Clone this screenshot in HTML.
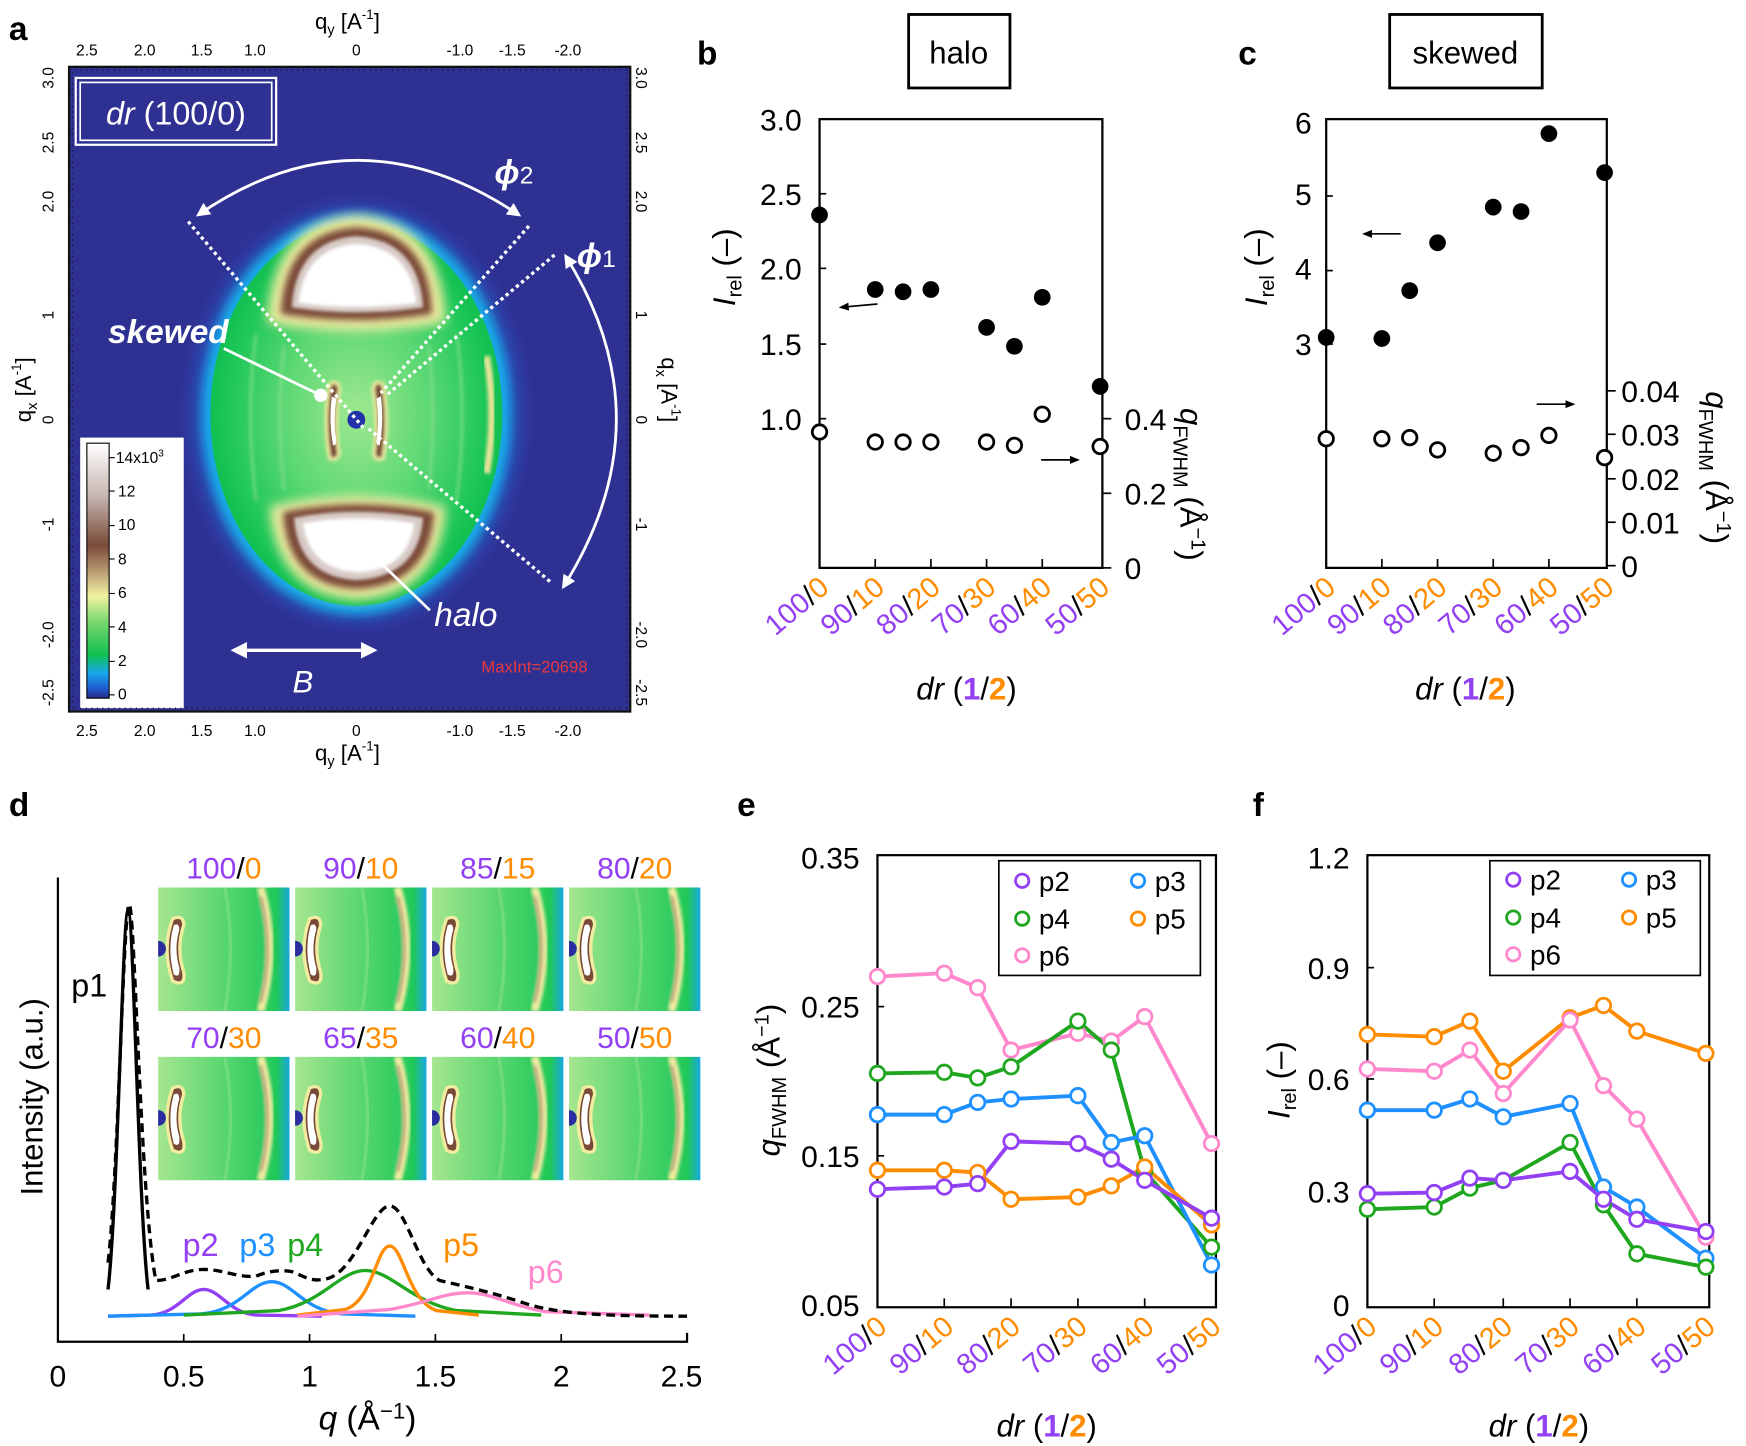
<!DOCTYPE html>
<html><head><meta charset="utf-8"><style>
html,body{margin:0;padding:0;background:#fff}
svg{display:block}
text{font-family:"Liberation Sans",sans-serif}
</style></head><body>
<svg width="1746" height="1446" viewBox="0 0 1568 1298.6" xmlns="http://www.w3.org/2000/svg">
<defs>
<radialGradient id="glow" cx="50%" cy="50%" r="50%">
<stop offset="0.75" stop-color="#2a5ad0"/><stop offset="1" stop-color="#2e3192"/></radialGradient>
<radialGradient id="grn" cx="50%" cy="50%" r="50%">
<stop offset="0" stop-color="#a0e890"/><stop offset="0.5" stop-color="#5cd874"/><stop offset="0.85" stop-color="#22c85a"/><stop offset="1" stop-color="#10c050"/></radialGradient>
<linearGradient id="cbar" x1="0" y1="1" x2="0" y2="0">
<stop offset="0" stop-color="#262a85"/><stop offset="0.04" stop-color="#1f5fd0"/><stop offset="0.1" stop-color="#16a8ea"/>
<stop offset="0.17" stop-color="#10c050"/><stop offset="0.3" stop-color="#7ad870"/><stop offset="0.4" stop-color="#f2f2a0"/>
<stop offset="0.5" stop-color="#b89870"/><stop offset="0.6" stop-color="#7a4a38"/><stop offset="0.8" stop-color="#c8b8b4"/><stop offset="1" stop-color="#ffffff"/></linearGradient>
<linearGradient id="thumb" x1="0" y1="0" x2="1" y2="0">
<stop offset="0" stop-color="#a6e690"/><stop offset="0.5" stop-color="#58d670"/><stop offset="0.9" stop-color="#20c858"/><stop offset="1" stop-color="#18a8e0"/></linearGradient>
<filter id="bl" x="-50%" y="-50%" width="200%" height="200%"><feGaussianBlur stdDeviation="5"/></filter>
<filter id="bl3" x="-50%" y="-50%" width="200%" height="200%"><feGaussianBlur stdDeviation="3"/></filter>
<filter id="bl2" x="-50%" y="-50%" width="200%" height="200%"><feGaussianBlur stdDeviation="1.5"/></filter>
<clipPath id="tc"><rect x="0" y="0" width="118" height="111"/></clipPath>
<marker id="ah" viewBox="0 0 10 10" refX="8" refY="5" markerWidth="5" markerHeight="5" orient="auto-start-reverse"><path d="M0,0 L10,5 L0,10 z" fill="#fff"/></marker>
<marker id="ahk" viewBox="0 0 10 10" refX="8" refY="5" markerWidth="6" markerHeight="6" orient="auto"><path d="M0,1 L10,5 L0,9 z" fill="#000"/></marker>
<g id="th" clip-path="url(#tc)">
<rect x="0" y="0" width="118" height="111" fill="url(#thumb)"/>
<path d="M92,0 Q108,55 92,111" stroke="#f0eca0" stroke-width="7" fill="none" filter="url(#bl2)"/>
<path d="M92,8 Q104,55 92,103" stroke="#b89a78" stroke-width="2.5" fill="none" filter="url(#bl2)"/>
<path d="M60,0 Q70,55 60,111" stroke="#8ee090" stroke-width="3" fill="none" opacity="0.5"/>
<path d="M13,28 Q3,55 13,84 Q25,90 23,76 Q16,55 23,34 Q23,24 13,28z" fill="#7a4a38" stroke="#f0eca0" stroke-width="3"/>
<path d="M14,34 Q8,55 14,78 Q20,82 19,72 Q14,55 19,38 Q19,31 14,34z" fill="#fff"/>
<circle cx="0" cy="55" r="7" fill="#2a2ca0"/>
</g>
</defs>

<!-- ============ PANEL A ============ -->
<text x="8" y="36" font-size="30" font-weight="bold">a</text>
<rect x="62" y="60" width="504" height="579" fill="#2e3192"/>
<g>
<ellipse cx="320" cy="372" rx="160" ry="200" fill="url(#glow)"/>
<ellipse cx="320" cy="372" rx="139" ry="180" fill="#19aee8" filter="url(#bl)"/>
<ellipse cx="320" cy="372" rx="131" ry="172" fill="url(#grn)"/>
<g fill="none" stroke="#8ee090" stroke-width="3" opacity="0.6" filter="url(#bl2)">
<path d="M385,310 Q392,372 385,440"/><path d="M255,310 Q248,372 255,440"/>
<path d="M410,300 Q420,372 410,450"/><path d="M230,300 Q220,372 230,450"/>
</g>
<path d="M437,320 Q446,372 437,425" stroke="#e8e49a" stroke-width="6" fill="none" filter="url(#bl2)"/>
<!-- top blob -->
<path d="M240,290 Q244,198 320,193 Q398,198 400,290 Q320,304 240,290z" fill="#eeeaa0" filter="url(#bl)"/>
<path d="M252,282 Q256,208 320,204 Q386,208 388,282 Q320,293 252,282z" fill="#7a4a38" filter="url(#bl3)"/>
<path d="M262,276 Q266,216 320,212 Q376,216 380,276 Q320,285 262,276z" fill="#d8ccc8" filter="url(#bl2)"/>
<path d="M268,272 Q274,222 320,219 Q368,222 374,272 Q320,279 268,272z" fill="#fff" filter="url(#bl2)"/>
<!-- bottom blob -->
<path d="M242,455 Q320,436 400,455 Q396,535 320,539 Q248,535 242,455z" fill="#eeeaa0" filter="url(#bl)"/>
<path d="M254,460 Q320,446 390,460 Q386,526 320,529 Q258,526 254,460z" fill="#7a4a38" filter="url(#bl3)"/>
<path d="M264,465 Q320,454 380,465 Q376,518 320,521 Q268,518 264,465z" fill="#d8ccc8" filter="url(#bl2)"/>
<path d="M272,470 Q320,461 372,470 Q366,512 322,514 Q278,512 272,470z" fill="#fff" filter="url(#bl2)"/>
<!-- skewed streaks -->
<path d="M296,345 Q290,378 296,412 Q306,414 304,404 Q300,378 305,350 Q304,340 296,345z" fill="#7a4a38" stroke="#f0eca0" stroke-width="3" filter="url(#bl2)"/>
<path d="M298,356 Q295,378 299,400 Q302,400 302,396 Q299,378 302,358z" fill="#fff"/>
<path d="M344,345 Q350,378 344,412 Q334,414 336,404 Q340,378 335,350 Q336,340 344,345z" fill="#7a4a38" stroke="#f0eca0" stroke-width="3" filter="url(#bl2)"/>
<path d="M342,356 Q345,378 341,400 Q338,400 338,396 Q341,378 338,358z" fill="#fff"/>
<circle cx="320" cy="377" r="8" fill="#2233aa"/>
</g>
<!-- annotations -->
<rect x="68" y="70" width="180" height="60" fill="none" stroke="#fff" stroke-width="2"/>
<rect x="72" y="74" width="172" height="52" fill="none" stroke="#fff" stroke-width="1.5"/>
<text x="158" y="112" font-size="29" fill="#fff" text-anchor="middle"><tspan font-style="italic">dr</tspan> (100/0)</text>
<g stroke="#fff" stroke-width="3" stroke-dasharray="3,3" fill="none">
<path d="M169,199 L327,385"/><path d="M331,385 L496,524"/>
<path d="M475,203 L342,353"/><path d="M498,229 L347,355"/>
</g>
<path d="M178,193 Q320,95 466,193" stroke="#fff" stroke-width="2.5" fill="none" marker-start="url(#ah)" marker-end="url(#ah)"/>
<path d="M508,230 Q600,377 506,527" stroke="#fff" stroke-width="2.5" fill="none" marker-start="url(#ah)" marker-end="url(#ah)"/>
<text x="444" y="165" font-size="30" fill="#fff" font-style="italic" font-weight="bold">ϕ<tspan font-size="22" font-style="normal" font-weight="normal">2</tspan></text>
<text x="518" y="240" font-size="30" fill="#fff" font-style="italic" font-weight="bold">ϕ<tspan font-size="22" font-style="normal" font-weight="normal">1</tspan></text>
<line x1="201" y1="313" x2="288" y2="355" stroke="#fff" stroke-width="2.5"/>
<circle cx="288" cy="355" r="6" fill="#fff"/>
<text x="97" y="308" font-size="30" fill="#fff" font-style="italic" font-weight="bold">skewed</text>
<line x1="334" y1="498" x2="386" y2="548" stroke="#fff" stroke-width="2.5"/>
<circle cx="334" cy="498" r="6" fill="#fff"/>
<text x="390" y="562" font-size="30" fill="#fff" font-style="italic">halo</text>
<line x1="210" y1="584" x2="336" y2="584" stroke="#fff" stroke-width="3" marker-start="url(#ah)" marker-end="url(#ah)"/>
<text x="272" y="622" font-size="28" fill="#fff" font-style="italic" text-anchor="middle">B</text>
<text x="480" y="604" font-size="15" fill="#e8383d" text-anchor="middle">MaxInt=20698</text>
<!-- colorbar -->
<rect x="72" y="393" width="93" height="243" fill="#fff"/>
<rect x="78" y="398" width="20" height="229" fill="url(#cbar)" stroke="#000" stroke-width="1"/>
<g font-size="14">
<text x="104" y="416">14x10<tspan font-size="9" dy="-6">3</tspan></text>
<text x="106" y="446">12</text><text x="106" y="476">10</text><text x="106" y="507">8</text><text x="106" y="537">6</text><text x="106" y="568">4</text><text x="106" y="598">2</text><text x="106" y="628">0</text>
</g>
<g stroke="#000" stroke-width="1"><line x1="98" y1="411" x2="103" y2="411"/><line x1="98" y1="441" x2="103" y2="441"/><line x1="98" y1="472" x2="103" y2="472"/><line x1="98" y1="502" x2="103" y2="502"/><line x1="98" y1="533" x2="103" y2="533"/><line x1="98" y1="563" x2="103" y2="563"/><line x1="98" y1="594" x2="103" y2="594"/><line x1="98" y1="624" x2="103" y2="624"/></g>
<rect x="62" y="60" width="504" height="579" fill="none" stroke="#111" stroke-width="2"/>
<g stroke="#111" stroke-width="1" stroke-dasharray="1,4">
<line x1="62" y1="63" x2="566" y2="63"/><line x1="62" y1="636" x2="566" y2="636"/>
<line x1="65" y1="60" x2="65" y2="639"/><line x1="563" y1="60" x2="563" y2="639"/>
</g>
<g font-size="14" text-anchor="middle">
<text x="78" y="50">2.5</text><text x="130" y="50">2.0</text><text x="181" y="50">1.5</text><text x="229" y="50">1.0</text><text x="320" y="50">0</text><text x="413" y="50">-1.0</text><text x="460" y="50">-1.5</text><text x="510" y="50">-2.0</text>
<text x="78" y="661">2.5</text><text x="130" y="661">2.0</text><text x="181" y="661">1.5</text><text x="229" y="661">1.0</text><text x="320" y="661">0</text><text x="413" y="661">-1.0</text><text x="460" y="661">-1.5</text><text x="510" y="661">-2.0</text>
</g>
<text x="312" y="26" font-size="20" text-anchor="middle">q<tspan font-size="13" dy="5">y</tspan><tspan dy="-5"> [A</tspan><tspan font-size="12" dy="-9">-1</tspan><tspan dy="9">]</tspan></text>
<text x="312" y="683" font-size="20" text-anchor="middle">q<tspan font-size="13" dy="5">y</tspan><tspan dy="-5"> [A</tspan><tspan font-size="12" dy="-9">-1</tspan><tspan dy="9">]</tspan></text>
<g font-size="14" text-anchor="middle">
<text transform="translate(48,70) rotate(-90)">3.0</text><text transform="translate(48,128) rotate(-90)">2.5</text><text transform="translate(48,181) rotate(-90)">2.0</text><text transform="translate(48,283) rotate(-90)">1</text><text transform="translate(48,377) rotate(-90)">0</text><text transform="translate(48,471) rotate(-90)">-1</text><text transform="translate(48,570) rotate(-90)">-2.0</text><text transform="translate(48,622) rotate(-90)">-2.5</text>
<text transform="translate(571,70) rotate(90)">3.0</text><text transform="translate(571,128) rotate(90)">2.5</text><text transform="translate(571,181) rotate(90)">2.0</text><text transform="translate(571,283) rotate(90)">1</text><text transform="translate(571,377) rotate(90)">0</text><text transform="translate(571,471) rotate(90)">-1</text><text transform="translate(571,570) rotate(90)">-2.0</text><text transform="translate(571,622) rotate(90)">-2.5</text>
</g>
<text transform="translate(28,350) rotate(-90)" font-size="20" text-anchor="middle">q<tspan font-size="13" dy="5">x</tspan><tspan dy="-5"> [A</tspan><tspan font-size="12" dy="-9">-1</tspan><tspan dy="9">]</tspan></text>
<text transform="translate(594,350) rotate(90)" font-size="20" text-anchor="middle">q<tspan font-size="13" dy="5">x</tspan><tspan dy="-5"> [A</tspan><tspan font-size="12" dy="-9">-1</tspan><tspan dy="9">]</tspan></text>

<!-- ============ PANEL B ============ -->
<text x="626" y="58" font-size="30" font-weight="bold">b</text>
<rect x="816" y="13" width="91" height="66" fill="none" stroke="#000" stroke-width="2.5"/>
<text x="861" y="57" font-size="28" text-anchor="middle">halo</text>
<rect x="736" y="107" width="254" height="403" fill="none" stroke="#000" stroke-width="2"/>
<g font-size="27" text-anchor="end"><text x="720" y="117">3.0</text><text x="720" y="184">2.5</text><text x="720" y="251">2.0</text><text x="720" y="319">1.5</text><text x="720" y="386">1.0</text></g>
<g stroke="#000" stroke-width="1.5"><line x1="736" y1="174" x2="742" y2="174"/><line x1="736" y1="241" x2="742" y2="241"/><line x1="736" y1="309" x2="742" y2="309"/><line x1="736" y1="376" x2="742" y2="376"/>
<line x1="990" y1="376" x2="998" y2="376"/><line x1="990" y1="443" x2="998" y2="443"/><line x1="990" y1="510" x2="998" y2="510"/>
<line x1="786" y1="510" x2="786" y2="502"/><line x1="836" y1="510" x2="836" y2="502"/><line x1="886" y1="510" x2="886" y2="502"/><line x1="936" y1="510" x2="936" y2="502"/></g>
<g font-size="27"><text x="1010" y="386">0.4</text><text x="1010" y="453">0.2</text><text x="1010" y="520">0</text></g>
<text transform="translate(660,240) rotate(-90)" font-size="28" text-anchor="middle"><tspan font-style="italic">I</tspan><tspan font-size="18" dy="6">rel</tspan><tspan dy="-6"> (–)</tspan></text>
<text transform="translate(1060,435) rotate(90)" font-size="28" text-anchor="middle"><tspan font-style="italic">q</tspan><tspan font-size="18" dy="6">FWHM</tspan><tspan dy="-6"> (Å</tspan><tspan font-size="18" dy="-10">−1</tspan><tspan dy="10">)</tspan></text>
<g fill="#000"><circle cx="736" cy="193" r="7.5"/><circle cx="786" cy="260" r="7.5"/><circle cx="811" cy="262" r="7.5"/><circle cx="836" cy="260" r="7.5"/><circle cx="886" cy="294" r="7.5"/><circle cx="911" cy="311" r="7.5"/><circle cx="936" cy="267" r="7.5"/><circle cx="988" cy="347" r="7.5"/></g>
<g fill="#fff" stroke="#000" stroke-width="2.5"><circle cx="736" cy="388" r="6.5"/><circle cx="786" cy="397" r="6.5"/><circle cx="811" cy="397" r="6.5"/><circle cx="836" cy="397" r="6.5"/><circle cx="886" cy="397" r="6.5"/><circle cx="911" cy="400" r="6.5"/><circle cx="936" cy="372" r="6.5"/><circle cx="988" cy="401" r="6.5"/></g>
<line x1="788" y1="273" x2="755" y2="276" stroke="#000" stroke-width="1.5" marker-end="url(#ahk)"/>
<line x1="935" y1="413" x2="968" y2="413" stroke="#000" stroke-width="1.5" marker-end="url(#ahk)"/>
<g font-size="26" text-anchor="end">
<text transform="translate(746,530) rotate(-40)"><tspan fill="#9340f5">100</tspan>/<tspan fill="#ff8c00">0</tspan></text>
<text transform="translate(796,530) rotate(-40)"><tspan fill="#9340f5">90</tspan>/<tspan fill="#ff8c00">10</tspan></text>
<text transform="translate(846,530) rotate(-40)"><tspan fill="#9340f5">80</tspan>/<tspan fill="#ff8c00">20</tspan></text>
<text transform="translate(896,530) rotate(-40)"><tspan fill="#9340f5">70</tspan>/<tspan fill="#ff8c00">30</tspan></text>
<text transform="translate(946,530) rotate(-40)"><tspan fill="#9340f5">60</tspan>/<tspan fill="#ff8c00">40</tspan></text>
<text transform="translate(998,530) rotate(-40)"><tspan fill="#9340f5">50</tspan>/<tspan fill="#ff8c00">50</tspan></text>
</g>
<text x="868" y="628" font-size="28" text-anchor="middle"><tspan font-style="italic">dr</tspan> (<tspan fill="#9340f5" font-weight="bold">1</tspan>/<tspan fill="#ff8c00" font-weight="bold">2</tspan>)</text>

<!-- ============ PANEL C ============ -->
<text x="1112" y="58" font-size="30" font-weight="bold">c</text>
<rect x="1248" y="13" width="137" height="66" fill="none" stroke="#000" stroke-width="2.5"/>
<text x="1316" y="57" font-size="28" text-anchor="middle">skewed</text>
<rect x="1191" y="107" width="252" height="403" fill="none" stroke="#000" stroke-width="2"/>
<g font-size="27" text-anchor="end"><text x="1178" y="120">6</text><text x="1178" y="184">5</text><text x="1178" y="251">4</text><text x="1178" y="319">3</text></g>
<g stroke="#000" stroke-width="1.5"><line x1="1191" y1="176" x2="1197" y2="176"/><line x1="1191" y1="243" x2="1197" y2="243"/><line x1="1191" y1="309" x2="1197" y2="309"/>
<line x1="1443" y1="351" x2="1451" y2="351"/><line x1="1443" y1="390" x2="1451" y2="390"/><line x1="1443" y1="430" x2="1451" y2="430"/><line x1="1443" y1="469" x2="1451" y2="469"/><line x1="1443" y1="508" x2="1451" y2="508"/>
<line x1="1241" y1="510" x2="1241" y2="502"/><line x1="1291" y1="510" x2="1291" y2="502"/><line x1="1341" y1="510" x2="1341" y2="502"/><line x1="1391" y1="510" x2="1391" y2="502"/></g>
<g font-size="27"><text x="1456" y="361">0.04</text><text x="1456" y="400">0.03</text><text x="1456" y="440">0.02</text><text x="1456" y="479">0.01</text><text x="1456" y="518">0</text></g>
<text transform="translate(1138,240) rotate(-90)" font-size="28" text-anchor="middle"><tspan font-style="italic">I</tspan><tspan font-size="18" dy="6">rel</tspan><tspan dy="-6"> (–)</tspan></text>
<text transform="translate(1532,420) rotate(90)" font-size="28" text-anchor="middle"><tspan font-style="italic">q</tspan><tspan font-size="18" dy="6">FWHM</tspan><tspan dy="-6"> (Å</tspan><tspan font-size="18" dy="-10">−1</tspan><tspan dy="10">)</tspan></text>
<g fill="#000"><circle cx="1191" cy="303" r="7.5"/><circle cx="1241" cy="304" r="7.5"/><circle cx="1266" cy="261" r="7.5"/><circle cx="1291" cy="218" r="7.5"/><circle cx="1341" cy="186" r="7.5"/><circle cx="1366" cy="190" r="7.5"/><circle cx="1391" cy="120" r="7.5"/><circle cx="1441" cy="155" r="7.5"/></g>
<g fill="#fff" stroke="#000" stroke-width="2.5"><circle cx="1191" cy="394" r="6.5"/><circle cx="1241" cy="394" r="6.5"/><circle cx="1266" cy="393" r="6.5"/><circle cx="1291" cy="404" r="6.5"/><circle cx="1341" cy="407" r="6.5"/><circle cx="1366" cy="402" r="6.5"/><circle cx="1391" cy="391" r="6.5"/><circle cx="1441" cy="411" r="6.5"/></g>
<line x1="1258" y1="210" x2="1225" y2="210" stroke="#000" stroke-width="1.5" marker-end="url(#ahk)"/>
<line x1="1380" y1="363" x2="1413" y2="363" stroke="#000" stroke-width="1.5" marker-end="url(#ahk)"/>
<g font-size="26" text-anchor="end">
<text transform="translate(1201,530) rotate(-40)"><tspan fill="#9340f5">100</tspan>/<tspan fill="#ff8c00">0</tspan></text>
<text transform="translate(1251,530) rotate(-40)"><tspan fill="#9340f5">90</tspan>/<tspan fill="#ff8c00">10</tspan></text>
<text transform="translate(1301,530) rotate(-40)"><tspan fill="#9340f5">80</tspan>/<tspan fill="#ff8c00">20</tspan></text>
<text transform="translate(1351,530) rotate(-40)"><tspan fill="#9340f5">70</tspan>/<tspan fill="#ff8c00">30</tspan></text>
<text transform="translate(1401,530) rotate(-40)"><tspan fill="#9340f5">60</tspan>/<tspan fill="#ff8c00">40</tspan></text>
<text transform="translate(1451,530) rotate(-40)"><tspan fill="#9340f5">50</tspan>/<tspan fill="#ff8c00">50</tspan></text>
</g>
<text x="1316" y="628" font-size="28" text-anchor="middle"><tspan font-style="italic">dr</tspan> (<tspan fill="#9340f5" font-weight="bold">1</tspan>/<tspan fill="#ff8c00" font-weight="bold">2</tspan>)</text>

<!-- ============ PANEL D ============ -->
<text x="8" y="733" font-size="30" font-weight="bold">d</text>
<path d="M52,788 L52,1205 L617,1205 L617,1197" fill="none" stroke="#000" stroke-width="2"/>
<g stroke="#000" stroke-width="1.5"><line x1="165" y1="1205" x2="165" y2="1198"/><line x1="278" y1="1205" x2="278" y2="1198"/><line x1="391" y1="1205" x2="391" y2="1198"/><line x1="504" y1="1205" x2="504" y2="1198"/></g>
<g font-size="27" text-anchor="middle"><text x="52" y="1245">0</text><text x="165" y="1245">0.5</text><text x="278" y="1245">1</text><text x="391" y="1245">1.5</text><text x="504" y="1245">2</text><text x="612" y="1245">2.5</text></g>
<text x="330" y="1284" font-size="30" text-anchor="middle"><tspan font-style="italic">q</tspan> (Å<tspan font-size="20" dy="-10">−1</tspan><tspan dy="10">)</tspan></text>
<text transform="translate(38,985) rotate(-90)" font-size="28" text-anchor="middle">Intensity (a.u.)</text>
<!-- thumbnails -->
<use href="#th" x="142" y="797"/><use href="#th" x="265" y="797"/><use href="#th" x="388" y="797"/><use href="#th" x="511" y="797"/>
<use href="#th" x="142" y="949"/><use href="#th" x="265" y="949"/><use href="#th" x="388" y="949"/><use href="#th" x="511" y="949"/>
<g font-size="27" text-anchor="middle">
<text x="201" y="789"><tspan fill="#9340f5">100</tspan>/<tspan fill="#ff8c00">0</tspan></text>
<text x="324" y="789"><tspan fill="#9340f5">90</tspan>/<tspan fill="#ff8c00">10</tspan></text>
<text x="447" y="789"><tspan fill="#9340f5">85</tspan>/<tspan fill="#ff8c00">15</tspan></text>
<text x="570" y="789"><tspan fill="#9340f5">80</tspan>/<tspan fill="#ff8c00">20</tspan></text>
<text x="201" y="941"><tspan fill="#9340f5">70</tspan>/<tspan fill="#ff8c00">30</tspan></text>
<text x="324" y="941"><tspan fill="#9340f5">65</tspan>/<tspan fill="#ff8c00">35</tspan></text>
<text x="447" y="941"><tspan fill="#9340f5">60</tspan>/<tspan fill="#ff8c00">40</tspan></text>
<text x="570" y="941"><tspan fill="#9340f5">50</tspan>/<tspan fill="#ff8c00">50</tspan></text>
</g>
<!-- curves -->
<g fill="none" stroke-width="3">
<path stroke="#9340f5" d="M97,1182 L135,1181 C160,1180 168,1158 183,1158 C198,1158 206,1180 231,1181 L289,1182"/>
<path stroke="#1e90ff" d="M97,1182 L180,1180 C215,1178 225,1151 244,1151 C263,1151 273,1178 308,1180 L373,1182"/>
<path stroke="#1fa81f" d="M165,1181 L250,1177 C290,1170 305,1141 328,1141 C351,1141 370,1170 410,1177 L486,1181"/>
<path stroke="#ff8c00" d="M267,1181 L310,1176 C335,1168 338,1119 350,1119 C362,1119 366,1168 392,1177 L430,1181"/>
<path stroke="#ff88cc" d="M267,1182 L350,1176 C385,1170 398,1161 420,1161 C442,1161 456,1172 490,1178 L583,1181"/>
<path stroke="#000" d="M97,1158 C106,1080 110,818 115,818 C120,818 124,1080 133,1158"/>
<path stroke="#000" stroke-dasharray="8,5" d="M97,1134 C106,1060 111,812 116,812 C121,812 126,1080 140,1150 C155,1150 165,1140 183,1140 C200,1140 215,1148 230,1146 C240,1142 250,1140 262,1142 C275,1147 280,1152 295,1148 C320,1140 335,1083 350,1083 C365,1083 375,1140 395,1150 C420,1156 440,1160 470,1170 C500,1180 540,1182 617,1182"/>
</g>
<g font-size="29"><text x="64" y="895">p1</text><text x="164" y="1128" fill="#9340f5">p2</text><text x="215" y="1128" fill="#1e90ff">p3</text><text x="258" y="1128" fill="#1fa81f">p4</text><text x="398" y="1128" fill="#ff8c00">p5</text><text x="474" y="1152" fill="#ff88cc">p6</text></g>

<!-- ============ PANEL E ============ -->
<text x="662" y="733" font-size="30" font-weight="bold">e</text>
<rect x="788" y="768" width="304" height="406" fill="none" stroke="#000" stroke-width="2"/>
<g stroke="#000" stroke-width="1.5"><line x1="788" y1="904" x2="794" y2="904"/><line x1="788" y1="1038" x2="794" y2="1038"/>
<line x1="848" y1="1174" x2="848" y2="1166"/><line x1="908" y1="1174" x2="908" y2="1166"/><line x1="968" y1="1174" x2="968" y2="1166"/><line x1="1028" y1="1174" x2="1028" y2="1166"/></g>
<g font-size="27" text-anchor="end"><text x="772" y="780">0.35</text><text x="772" y="914">0.25</text><text x="772" y="1048">0.15</text><text x="772" y="1182">0.05</text></g>
<text transform="translate(700,970) rotate(-90)" font-size="28" text-anchor="middle"><tspan font-style="italic">q</tspan><tspan font-size="18" dy="6">FWHM</tspan><tspan dy="-6"> (Å</tspan><tspan font-size="18" dy="-10">−1</tspan><tspan dy="10">)</tspan></text>
<g fill="none" stroke-width="3.5">
<polyline stroke="#ff88cc" points="788,877 848,874 878,887 908,943 968,928 998,935 1028,913 1088,1027"/>
<polyline stroke="#1fa81f" points="788,964 848,963 878,968 908,958 968,917 998,943 1028,1052 1088,1120"/>
<polyline stroke="#1e90ff" points="788,1001 848,1001 878,990 908,987 968,984 998,1026 1028,1020 1088,1136"/>
<polyline stroke="#ff8c00" points="788,1051 848,1051 878,1053 908,1077 968,1075 998,1065 1028,1048 1088,1100"/>
<polyline stroke="#9340f5" points="788,1068 848,1066 878,1063 908,1025 968,1027 998,1041 1028,1060 1088,1094"/>
</g>
<g fill="#fff" stroke-width="2.5" stroke="#ff88cc"><circle cx="788" cy="877" r="6.5"/><circle cx="848" cy="874" r="6.5"/><circle cx="878" cy="887" r="6.5"/><circle cx="908" cy="943" r="6.5"/><circle cx="968" cy="928" r="6.5"/><circle cx="998" cy="935" r="6.5"/><circle cx="1028" cy="913" r="6.5"/><circle cx="1088" cy="1027" r="6.5"/></g>
<g fill="#fff" stroke-width="2.5" stroke="#1fa81f"><circle cx="788" cy="964" r="6.5"/><circle cx="848" cy="963" r="6.5"/><circle cx="878" cy="968" r="6.5"/><circle cx="908" cy="958" r="6.5"/><circle cx="968" cy="917" r="6.5"/><circle cx="998" cy="943" r="6.5"/><circle cx="1028" cy="1052" r="6.5"/><circle cx="1088" cy="1120" r="6.5"/></g>
<g fill="#fff" stroke-width="2.5" stroke="#1e90ff"><circle cx="788" cy="1001" r="6.5"/><circle cx="848" cy="1001" r="6.5"/><circle cx="878" cy="990" r="6.5"/><circle cx="908" cy="987" r="6.5"/><circle cx="968" cy="984" r="6.5"/><circle cx="998" cy="1026" r="6.5"/><circle cx="1028" cy="1020" r="6.5"/><circle cx="1088" cy="1136" r="6.5"/></g>
<g fill="#fff" stroke-width="2.5" stroke="#ff8c00"><circle cx="788" cy="1051" r="6.5"/><circle cx="848" cy="1051" r="6.5"/><circle cx="878" cy="1053" r="6.5"/><circle cx="908" cy="1077" r="6.5"/><circle cx="968" cy="1075" r="6.5"/><circle cx="998" cy="1065" r="6.5"/><circle cx="1028" cy="1048" r="6.5"/><circle cx="1088" cy="1100" r="6.5"/></g>
<g fill="#fff" stroke-width="2.5" stroke="#9340f5"><circle cx="788" cy="1068" r="6.5"/><circle cx="848" cy="1066" r="6.5"/><circle cx="878" cy="1063" r="6.5"/><circle cx="908" cy="1025" r="6.5"/><circle cx="968" cy="1027" r="6.5"/><circle cx="998" cy="1041" r="6.5"/><circle cx="1028" cy="1060" r="6.5"/><circle cx="1088" cy="1094" r="6.5"/></g>
<rect x="897" y="773" width="181" height="103" fill="#fff" stroke="#000" stroke-width="1.5"/>
<g stroke-width="2.5" fill="#fff">
<circle cx="918" cy="791" r="6" stroke="#9340f5"/><circle cx="1022" cy="791" r="6" stroke="#1e90ff"/>
<circle cx="918" cy="825" r="6" stroke="#1fa81f"/><circle cx="1022" cy="825" r="6" stroke="#ff8c00"/>
<circle cx="918" cy="858" r="6" stroke="#ff88cc"/>
</g>
<g font-size="25"><text x="933" y="800">p2</text><text x="1037" y="800">p3</text><text x="933" y="834">p4</text><text x="1037" y="834">p5</text><text x="933" y="867">p6</text></g>
<g font-size="26" text-anchor="end">
<text transform="translate(798,1194) rotate(-40)"><tspan fill="#9340f5">100</tspan>/<tspan fill="#ff8c00">0</tspan></text>
<text transform="translate(858,1194) rotate(-40)"><tspan fill="#9340f5">90</tspan>/<tspan fill="#ff8c00">10</tspan></text>
<text transform="translate(918,1194) rotate(-40)"><tspan fill="#9340f5">80</tspan>/<tspan fill="#ff8c00">20</tspan></text>
<text transform="translate(978,1194) rotate(-40)"><tspan fill="#9340f5">70</tspan>/<tspan fill="#ff8c00">30</tspan></text>
<text transform="translate(1038,1194) rotate(-40)"><tspan fill="#9340f5">60</tspan>/<tspan fill="#ff8c00">40</tspan></text>
<text transform="translate(1098,1194) rotate(-40)"><tspan fill="#9340f5">50</tspan>/<tspan fill="#ff8c00">50</tspan></text>
</g>
<text x="940" y="1290" font-size="28" text-anchor="middle"><tspan font-style="italic">dr</tspan> (<tspan fill="#9340f5" font-weight="bold">1</tspan>/<tspan fill="#ff8c00" font-weight="bold">2</tspan>)</text>

<!-- ============ PANEL F ============ -->
<text x="1125" y="733" font-size="30" font-weight="bold">f</text>
<rect x="1228" y="768" width="307" height="406" fill="none" stroke="#000" stroke-width="2"/>
<g stroke="#000" stroke-width="1.5"><line x1="1228" y1="869" x2="1234" y2="869"/><line x1="1228" y1="969" x2="1234" y2="969"/><line x1="1228" y1="1070" x2="1234" y2="1070"/>
<line x1="1288" y1="1174" x2="1288" y2="1166"/><line x1="1350" y1="1174" x2="1350" y2="1166"/><line x1="1410" y1="1174" x2="1410" y2="1166"/><line x1="1470" y1="1174" x2="1470" y2="1166"/></g>
<g font-size="27" text-anchor="end"><text x="1212" y="780">1.2</text><text x="1212" y="879">0.9</text><text x="1212" y="979">0.6</text><text x="1212" y="1080">0.3</text><text x="1212" y="1182">0</text></g>
<text transform="translate(1158,970) rotate(-90)" font-size="28" text-anchor="middle"><tspan font-style="italic">I</tspan><tspan font-size="18" dy="6">rel</tspan><tspan dy="-6"> (–)</tspan></text>
<g fill="none" stroke-width="3.5">
<polyline stroke="#ff8c00" points="1228,929 1288,931 1320,917 1350,962 1410,914 1440,903 1470,926 1532,946"/>
<polyline stroke="#ff88cc" points="1228,960 1288,962 1320,943 1350,982 1410,916 1440,975 1470,1005 1532,1111"/>
<polyline stroke="#1e90ff" points="1228,997 1288,997 1320,987 1350,1003 1410,991 1440,1066 1470,1084 1532,1130"/>
<polyline stroke="#1fa81f" points="1228,1086 1288,1084 1320,1067 1350,1060 1410,1026 1440,1082 1470,1126 1532,1138"/>
<polyline stroke="#9340f5" points="1228,1072 1288,1071 1320,1058 1350,1060 1410,1052 1440,1077 1470,1095 1532,1106"/>
</g>
<g fill="#fff" stroke-width="2.5" stroke="#ff8c00"><circle cx="1228" cy="929" r="6.5"/><circle cx="1288" cy="931" r="6.5"/><circle cx="1320" cy="917" r="6.5"/><circle cx="1350" cy="962" r="6.5"/><circle cx="1410" cy="914" r="6.5"/><circle cx="1440" cy="903" r="6.5"/><circle cx="1470" cy="926" r="6.5"/><circle cx="1532" cy="946" r="6.5"/></g>
<g fill="#fff" stroke-width="2.5" stroke="#ff88cc"><circle cx="1228" cy="960" r="6.5"/><circle cx="1288" cy="962" r="6.5"/><circle cx="1320" cy="943" r="6.5"/><circle cx="1350" cy="982" r="6.5"/><circle cx="1410" cy="916" r="6.5"/><circle cx="1440" cy="975" r="6.5"/><circle cx="1470" cy="1005" r="6.5"/><circle cx="1532" cy="1111" r="6.5"/></g>
<g fill="#fff" stroke-width="2.5" stroke="#1e90ff"><circle cx="1228" cy="997" r="6.5"/><circle cx="1288" cy="997" r="6.5"/><circle cx="1320" cy="987" r="6.5"/><circle cx="1350" cy="1003" r="6.5"/><circle cx="1410" cy="991" r="6.5"/><circle cx="1440" cy="1066" r="6.5"/><circle cx="1470" cy="1084" r="6.5"/><circle cx="1532" cy="1130" r="6.5"/></g>
<g fill="#fff" stroke-width="2.5" stroke="#1fa81f"><circle cx="1228" cy="1086" r="6.5"/><circle cx="1288" cy="1084" r="6.5"/><circle cx="1320" cy="1067" r="6.5"/><circle cx="1350" cy="1060" r="6.5"/><circle cx="1410" cy="1026" r="6.5"/><circle cx="1440" cy="1082" r="6.5"/><circle cx="1470" cy="1126" r="6.5"/><circle cx="1532" cy="1138" r="6.5"/></g>
<g fill="#fff" stroke-width="2.5" stroke="#9340f5"><circle cx="1228" cy="1072" r="6.5"/><circle cx="1288" cy="1071" r="6.5"/><circle cx="1320" cy="1058" r="6.5"/><circle cx="1350" cy="1060" r="6.5"/><circle cx="1410" cy="1052" r="6.5"/><circle cx="1440" cy="1077" r="6.5"/><circle cx="1470" cy="1095" r="6.5"/><circle cx="1532" cy="1106" r="6.5"/></g>
<rect x="1338" y="773" width="189" height="103" fill="#fff" stroke="#000" stroke-width="1.5"/>
<g stroke-width="2.5" fill="#fff">
<circle cx="1359" cy="790" r="6" stroke="#9340f5"/><circle cx="1463" cy="790" r="6" stroke="#1e90ff"/>
<circle cx="1359" cy="824" r="6" stroke="#1fa81f"/><circle cx="1463" cy="824" r="6" stroke="#ff8c00"/>
<circle cx="1359" cy="857" r="6" stroke="#ff88cc"/>
</g>
<g font-size="25"><text x="1374" y="799">p2</text><text x="1478" y="799">p3</text><text x="1374" y="833">p4</text><text x="1478" y="833">p5</text><text x="1374" y="866">p6</text></g>
<g font-size="26" text-anchor="end">
<text transform="translate(1238,1194) rotate(-40)"><tspan fill="#9340f5">100</tspan>/<tspan fill="#ff8c00">0</tspan></text>
<text transform="translate(1298,1194) rotate(-40)"><tspan fill="#9340f5">90</tspan>/<tspan fill="#ff8c00">10</tspan></text>
<text transform="translate(1360,1194) rotate(-40)"><tspan fill="#9340f5">80</tspan>/<tspan fill="#ff8c00">20</tspan></text>
<text transform="translate(1420,1194) rotate(-40)"><tspan fill="#9340f5">70</tspan>/<tspan fill="#ff8c00">30</tspan></text>
<text transform="translate(1480,1194) rotate(-40)"><tspan fill="#9340f5">60</tspan>/<tspan fill="#ff8c00">40</tspan></text>
<text transform="translate(1542,1194) rotate(-40)"><tspan fill="#9340f5">50</tspan>/<tspan fill="#ff8c00">50</tspan></text>
</g>
<text x="1382" y="1290" font-size="28" text-anchor="middle"><tspan font-style="italic">dr</tspan> (<tspan fill="#9340f5" font-weight="bold">1</tspan>/<tspan fill="#ff8c00" font-weight="bold">2</tspan>)</text>
</svg>
</body></html>
